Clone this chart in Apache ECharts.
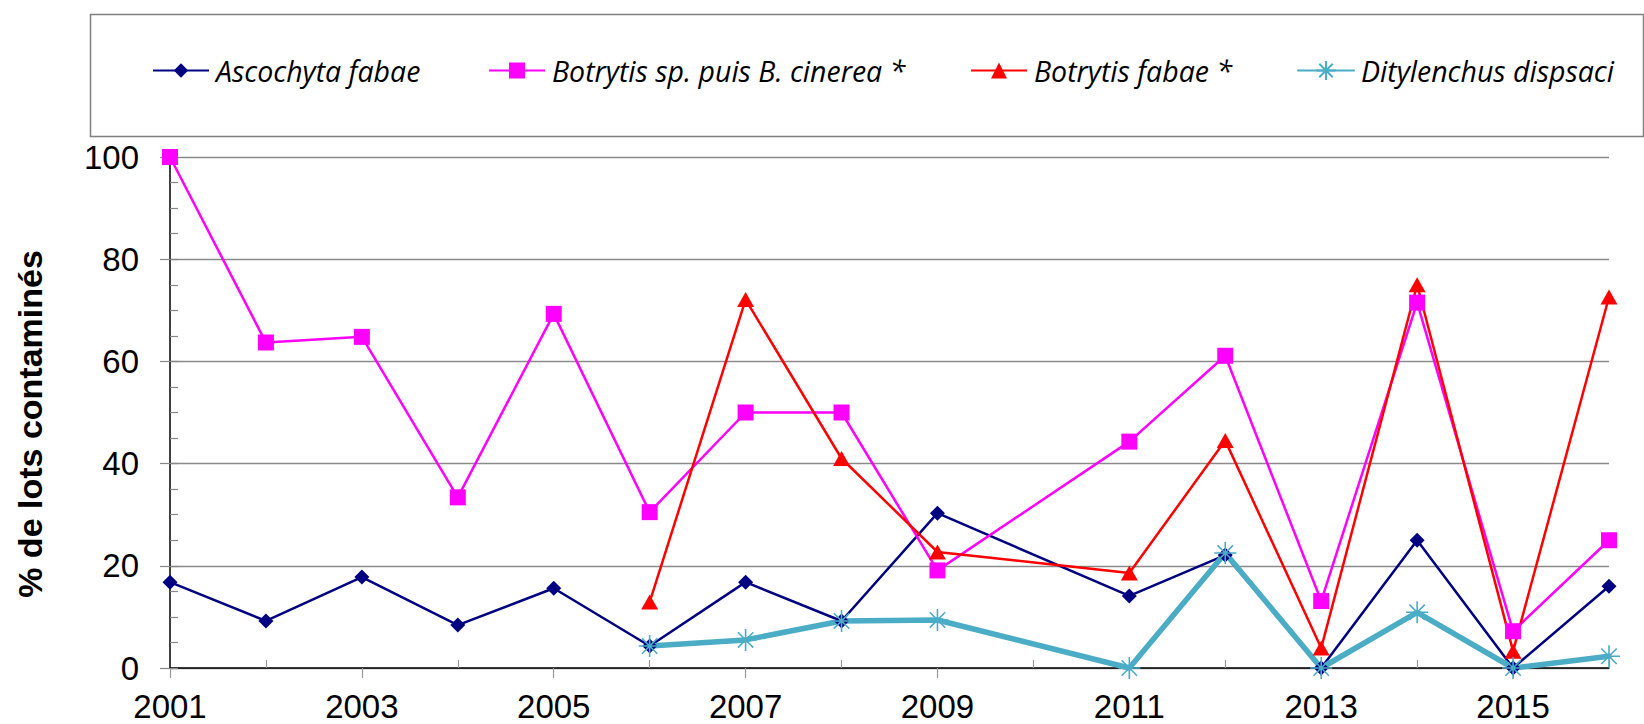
<!DOCTYPE html>
<html>
<head>
<meta charset="utf-8">
<script src="https://cdn.jsdelivr.net/npm/echarts@6/dist/echarts.min.js"></script>
<style>html,body{margin:0;padding:0;background:#fff}#c{width:1644px;height:724px}</style>
</head>
<body>
<div id="c"></div>
<script>
const years = ['2001','2002','2003','2004','2005','2006','2007','2008','2009','2010','2011','2012','2013','2014','2015','2016'];
const seriesNames = ['Ascochyta fabae', 'Botrytis sp. puis B. cinerea *', 'Botrytis fabae *', 'Ditylenchus dispsaci'];
const ascochyta     = [16.8, 9.2, 17.8, 8.4, 15.6, 4.3, 16.8, 9.2, 30.3, null, 14.1, 22.1, 0, 25.0, 0, 16.0];
const botrytisSp    = [100, 63.7, 64.8, 33.4, 69.3, 30.5, 50.0, 50.0, 19.1, null, 44.3, 61.1, 13.1, 71.5, 7.2, 25.0];
const botrytisFabae = [null, null, null, null, null, 12.9, 72.1, 41.0, 22.7, null, 18.6, 44.5, 3.9, 75.0, 3.3, 72.6];
const ditylenchus   = [null, null, null, null, null, 4.3, 5.5, 9.2, 9.4, null, 0, 22.5, 0, 10.9, 0, 2.3];
const yTitle = '% de lots contaminés';

const chart = echarts.init(document.getElementById('c'), null, {renderer: 'svg'});
const legendText = {fontFamily: 'Open Sans', fontStyle: 'italic', fontSize: 28.5, color: '#000', padding: [0, 0, 0, 2]};
function mkLegend(name, left, ih) {
  return {data: [name], left: left, top: 56, padding: 0, itemGap: 0, itemWidth: 56, itemHeight: ih,
    textStyle: legendText, selectedMode: false};
}
const asterisk = 'path://M10,0L10,20M0,10L20,10M3,3L17,17M3,17L17,3';
const option = {
  animation: false,
  backgroundColor: '#fff',
  graphic: [
    {type: 'rect', left: 88, top: 12, shape: {x: 0, y: 0, width: 1553, height: 122},
      style: {fill: 'none', stroke: '#7f7f7f', lineWidth: 1.5}, silent: true},
    {type: 'text', x: 30, y: 424, rotation: Math.PI / 2,
      style: {text: yTitle, font: 'bold 34px "Liberation Sans", Arial, sans-serif', fill: '#000',
        textAlign: 'center', textVerticalAlign: 'middle'}}
  ],
  legend: [
    mkLegend(seriesNames[0], 152, 18),
    mkLegend(seriesNames[1], 488, 20),
    mkLegend(seriesNames[2], 970, 20),
    mkLegend(seriesNames[3], 1297, 24)
  ],
  grid: {left: 170, right: 35, top: 157, height: 511, containLabel: false},
  xAxis: [
    {type: 'category', data: years, boundaryGap: false, position: 'bottom',
      axisLine: {lineStyle: {color: '#000', width: 1.5}},
      axisTick: {show: true, interval: (i) => i % 2 === 0, length: 10, lineStyle: {color: '#999', width: 1.2}},
      axisLabel: {interval: (i) => i % 2 === 0, margin: 25, lineHeight: 26, fontFamily: 'Liberation Sans', fontSize: 33, color: '#000'},
      splitLine: {show: false}},
    {type: 'category', data: years, boundaryGap: false, position: 'bottom',
      axisLine: {show: false},
      axisTick: {show: true, inside: true, interval: (i) => i % 2 === 1, length: 8, lineStyle: {color: '#999', width: 1.2}},
      axisLabel: {show: false}, splitLine: {show: false}}
  ],
  yAxis: [
    {type: 'value', min: 0, max: 100, interval: 20, position: 'left',
      axisLine: {show: true, lineStyle: {color: '#000', width: 1.5}},
      axisTick: {show: true, length: 10, lineStyle: {color: '#888', width: 1.2}},
      axisLabel: {margin: 31, fontFamily: 'Liberation Sans', fontSize: 33, color: '#000'},
      splitLine: {show: true, lineStyle: {color: '#8a8a8a', width: 1.3}}},
    {type: 'value', min: 0, max: 100, interval: 5, position: 'left',
      axisLine: {show: false},
      axisTick: {show: true, inside: true, length: 8, lineStyle: {color: '#888', width: 1.2}},
      axisLabel: {show: false}, splitLine: {show: false}}
  ],
  series: [
    {name: seriesNames[0], type: 'line', data: ascochyta, connectNulls: true,
      symbol: 'diamond', symbolSize: 15, color: '#000080',
      lineStyle: {color: '#000080', width: 2.5}, itemStyle: {color: '#000080'}},
    {name: seriesNames[1], type: 'line', data: botrytisSp, connectNulls: true,
      symbol: 'rect', symbolSize: 16, color: '#FF00FF',
      lineStyle: {color: '#FF00FF', width: 2.5}, itemStyle: {color: '#FF00FF'}},
    {name: seriesNames[2], type: 'line', data: botrytisFabae, connectNulls: true,
      symbol: 'triangle', symbolSize: [17, 15], color: '#FF0000',
      lineStyle: {color: '#FF0000', width: 2.5}, itemStyle: {color: '#FF0000'}},
    {name: seriesNames[3], type: 'line', data: ditylenchus, connectNulls: true,
      symbol: asterisk, symbolSize: 22, color: '#4BACC6',
      lineStyle: {color: '#4BACC6', width: 5.5, cap: 'round'},
      itemStyle: {color: 'none', borderColor: '#4BACC6', borderWidth: 1.6}}
  ]
};
chart.setOption(option);
</script>
</body>
</html>
